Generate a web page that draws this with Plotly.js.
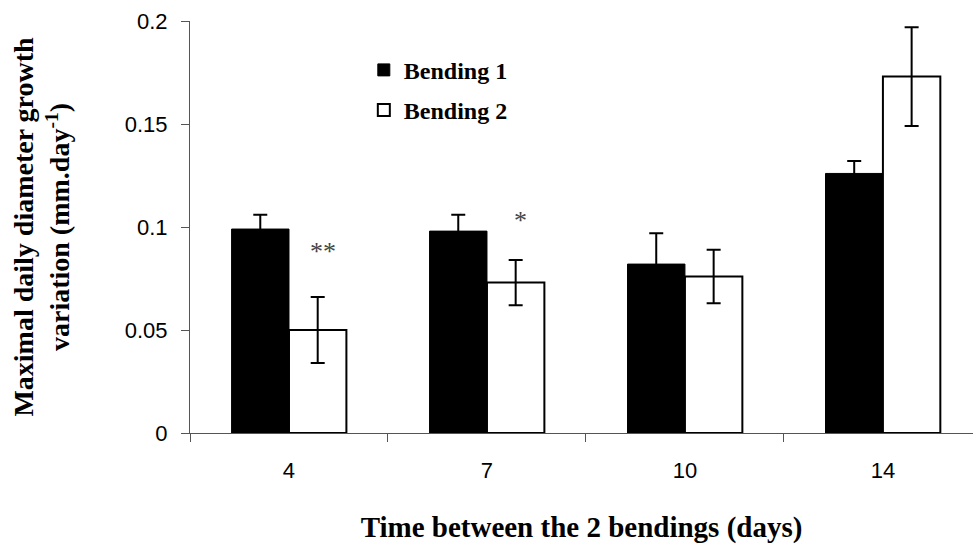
<!DOCTYPE html>
<html>
<head>
<meta charset="utf-8">
<script src="https://cdn.plot.ly/plotly-3.0.1.min.js"></script>
<style>html,body{margin:0;padding:0;background:#fff;overflow:hidden}</style>
</head>
<body>
<div id="chart" style="width:973px;height:548px"></div>
<script>
var categories = ['4', '7', '10', '14'];
var bending1 = [0.099, 0.098, 0.082, 0.126];
var bending1Err = [0.007, 0.008, 0.015, 0.006];
var bending2 = [0.050, 0.073, 0.076, 0.173];
var bending2Err = [0.016, 0.011, 0.013, 0.024];
var starCategories = ['4', '7'];
var starLabels = ['**', '*'];
var starValues = [0.088, 0.103];

var traces = [
  {
    type: 'bar', name: 'Bending 1', x: categories, y: bending1,
    marker: {color: '#000000', line: {color: '#000000', width: 1}},
    error_y: {type: 'data', array: bending1Err, visible: true, color: '#000000', thickness: 2, width: 7},
    legendgroup: 'a'
  },
  {
    type: 'bar', name: 'Bending 2', x: categories, y: bending2,
    marker: {color: '#ffffff', line: {color: '#000000', width: 2}},
    error_y: {type: 'data', array: bending2Err, visible: true, color: '#000000', thickness: 2, width: 7},
    legendgroup: 'b'
  }
];

var annotations = starCategories.map(function (c, i) {
  return {
    x: categories.indexOf(c), y: starValues[i], xref: 'x', yref: 'y', text: starLabels[i],
    showarrow: false, xshift: 34,
    font: {family: 'Liberation Serif, Times New Roman, serif', size: 26, color: '#444444'}
  };
});

var layout = {
  width: 973, height: 548,
  margin: {l: 190, r: 0, t: 21, b: 115},
  paper_bgcolor: '#ffffff', plot_bgcolor: '#ffffff',
  barmode: 'group', bargap: 0.42, bargroupgap: 0,
  showlegend: true,
  legend: {
    x: 0.222, y: 0.935, xanchor: 'left', yanchor: 'top',
    bgcolor: 'rgba(0,0,0,0)', traceorder: 'grouped', tracegroupgap: 6,
    font: {family: 'Liberation Serif, Times New Roman, serif', size: 24, color: '#000000', weight: 'bold'}
  },
  xaxis: {
    type: 'category', range: [-0.5, 3.455],
    showline: true, linecolor: '#555555', linewidth: 1,
    ticks: 'outside', ticklen: 8, tickcolor: '#555555', tickson: 'boundaries',
    ticklabelstandoff: 18,
    tickfont: {family: 'Liberation Sans, Arial, sans-serif', size: 22, color: '#000000'},
    showgrid: false, zeroline: false,
    title: {text: '<b>Time between the 2 bendings (days)</b>', standoff: 34,
      font: {family: 'Liberation Serif, Times New Roman, serif', size: 29, color: '#000000'}},
    automargin: false
  },
  yaxis: {
    range: [0, 0.2], dtick: 0.05, tick0: 0,
    showline: true, linecolor: '#555555', linewidth: 1,
    ticks: 'outside', ticklen: 8, tickcolor: '#555555',
    ticklabelstandoff: 9,
    tickfont: {family: 'Liberation Sans, Arial, sans-serif', size: 22, color: '#000000'},
    showgrid: false, zeroline: false,
    title: {text: '<b>Maximal daily diameter growth<br>variation (mm.day<sup>-1</sup>)</b>', standoff: 46,
      font: {family: 'Liberation Serif, Times New Roman, serif', size: 28, color: '#000000'}},
    automargin: false
  },
  annotations: annotations
};

Plotly.newPlot('chart', traces, layout, {staticPlot: true, displayModeBar: false});
</script>
</body>
</html>
